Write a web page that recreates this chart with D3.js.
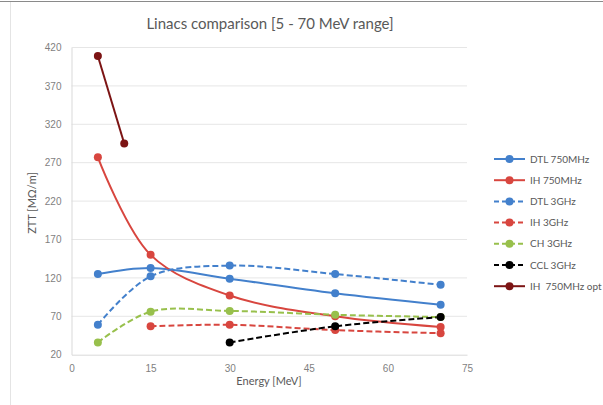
<!DOCTYPE html>
<html><head><meta charset="utf-8">
<script src="https://cdn.jsdelivr.net/npm/d3@7"></script>
<style>
html,body{margin:0;padding:0;background:#fff;}
svg{display:block;font-family:Lato,"Open Sans",sans-serif;}
</style></head>
<body>
<svg id="c" width="603" height="405"></svg>
<script>
// ---- data ----
const title = "Linacs comparison [5 - 70 MeV range]";
const xLabel = "Energy [MeV]";
const yLabel = "ZTT [MΩ/m]";
const xTicks = [0, 15, 30, 45, 60, 75];
const yTicks = [20, 70, 120, 170, 220, 270, 320, 370, 420];
const seriesNames = ["DTL 750MHz", "IH 750MHz", "DTL 3GHz", "IH 3GHz", "CH 3GHz", "CCL 3GHz", "IH  750MHz opt"];
const dtl750 = [[5,125],[15,133],[30,119],[50,100],[70,85]];
const ih750 = [[5,277],[15,150],[30,97],[50,70],[70,56]];
const dtl3 = [[5,59],[15,122],[30,136],[50,125],[70,111]];
const ih3 = [[15,57],[30,59],[50,52],[70,48]];
const ch3 = [[5,36],[15,76],[30,77],[50,72],[70,69]];
const ccl3 = [[30,36],[50,57],[70,69]];
const ih750opt = [[5,409],[10,295]];

const seriesData = [dtl750, ih750, dtl3, ih3, ch3, ccl3, ih750opt];
const colors = ["#4380cc", "#d8463f", "#4380cc", "#d8463f", "#98c04c", "#000000", "#7c1414"];
const dashed = [false, false, true, true, true, true, false];

// ---- layout ----
const svg = d3.select("#c");
const L = 71.5, R = 467, T = 47.5, B = 354.7;
const x = d3.scaleLinear().domain([0,75]).range([L,R]);
const y = d3.scaleLinear().domain([20,420]).range([B,T]);

// frame
svg.append("line").attr("x1",0).attr("x2",603).attr("y1",1.5).attr("y2",1.5).attr("stroke","#8a8a8a").attr("stroke-width",1);
svg.append("line").attr("x1",10.5).attr("x2",10.5).attr("y1",2).attr("y2",405).attr("stroke","#e4e4e4").attr("stroke-width",1);

// gridlines
svg.append("g").selectAll("line").data(yTicks.slice(1)).join("line")
  .attr("x1",L).attr("x2",R).attr("y1",d=>y(d)).attr("y2",d=>y(d))
  .attr("stroke","#e6e6e6").attr("stroke-width",1);

// axes
const yAxis = d3.axisLeft(y).tickValues(yTicks).tickSize(0).tickPadding(10);
const gy = svg.append("g").attr("transform",`translate(${L},0)`).call(yAxis);
gy.select(".domain").attr("stroke","#d9d9d9");
gy.selectAll("text").attr("fill","#7f7f7f").style("font-size","10px");

const xAxis = d3.axisBottom(x).tickValues(xTicks).tickSize(0).tickPadding(10);
const gx = svg.append("g").attr("transform",`translate(0,${B})`).call(xAxis);
gx.select(".domain").attr("stroke","#d9d9d9");
gx.selectAll("text").attr("fill","#7f7f7f").style("font-size","10px");

// title & labels
svg.append("text").attr("x",270).attr("y",29).attr("text-anchor","middle")
  .attr("fill","#595959").style("font-size","15px").text(title);
svg.append("text").attr("x",269).attr("y",385).attr("text-anchor","middle")
  .attr("fill","#595959").style("font-size","11px").text(xLabel);
svg.append("text").attr("transform","translate(36,203) rotate(-90)").attr("text-anchor","middle")
  .attr("fill","#595959").style("font-size","11px").text(yLabel);

// series
const line = d3.line().x(d=>x(d[0])).y(d=>y(d[1])).curve(d3.curveCatmullRom.alpha(0.5));
const gS = svg.append("g");
seriesData.forEach((data,i)=>{
  gS.append("path").datum(data).attr("d",line).attr("fill","none")
    .attr("stroke",colors[i]).attr("stroke-width",2)
    .attr("stroke-dasharray",dashed[i]?"6,3":null);
});
seriesData.forEach((data,i)=>{
  gS.append("g").selectAll("circle").data(data).join("circle")
    .attr("cx",d=>x(d[0])).attr("cy",d=>y(d[1])).attr("r",4).attr("fill",colors[i]);
});

// legend
const lg = svg.append("g");
seriesNames.forEach((n,i)=>{
  const yy = 159 + i*21.2;
  lg.append("line").attr("x1",494).attr("x2",525).attr("y1",yy).attr("y2",yy)
    .attr("stroke",colors[i]).attr("stroke-width",2).attr("stroke-dasharray",dashed[i]?"5,3":null);
  lg.append("circle").attr("cx",509.5).attr("cy",yy).attr("r",4).attr("fill",colors[i]);
  lg.append("text").attr("x",530).attr("y",yy).attr("dy","0.35em").attr("fill","#595959")
    .style("font-size","10px").style("white-space","pre").text(n);
});
</script>
</body></html>
